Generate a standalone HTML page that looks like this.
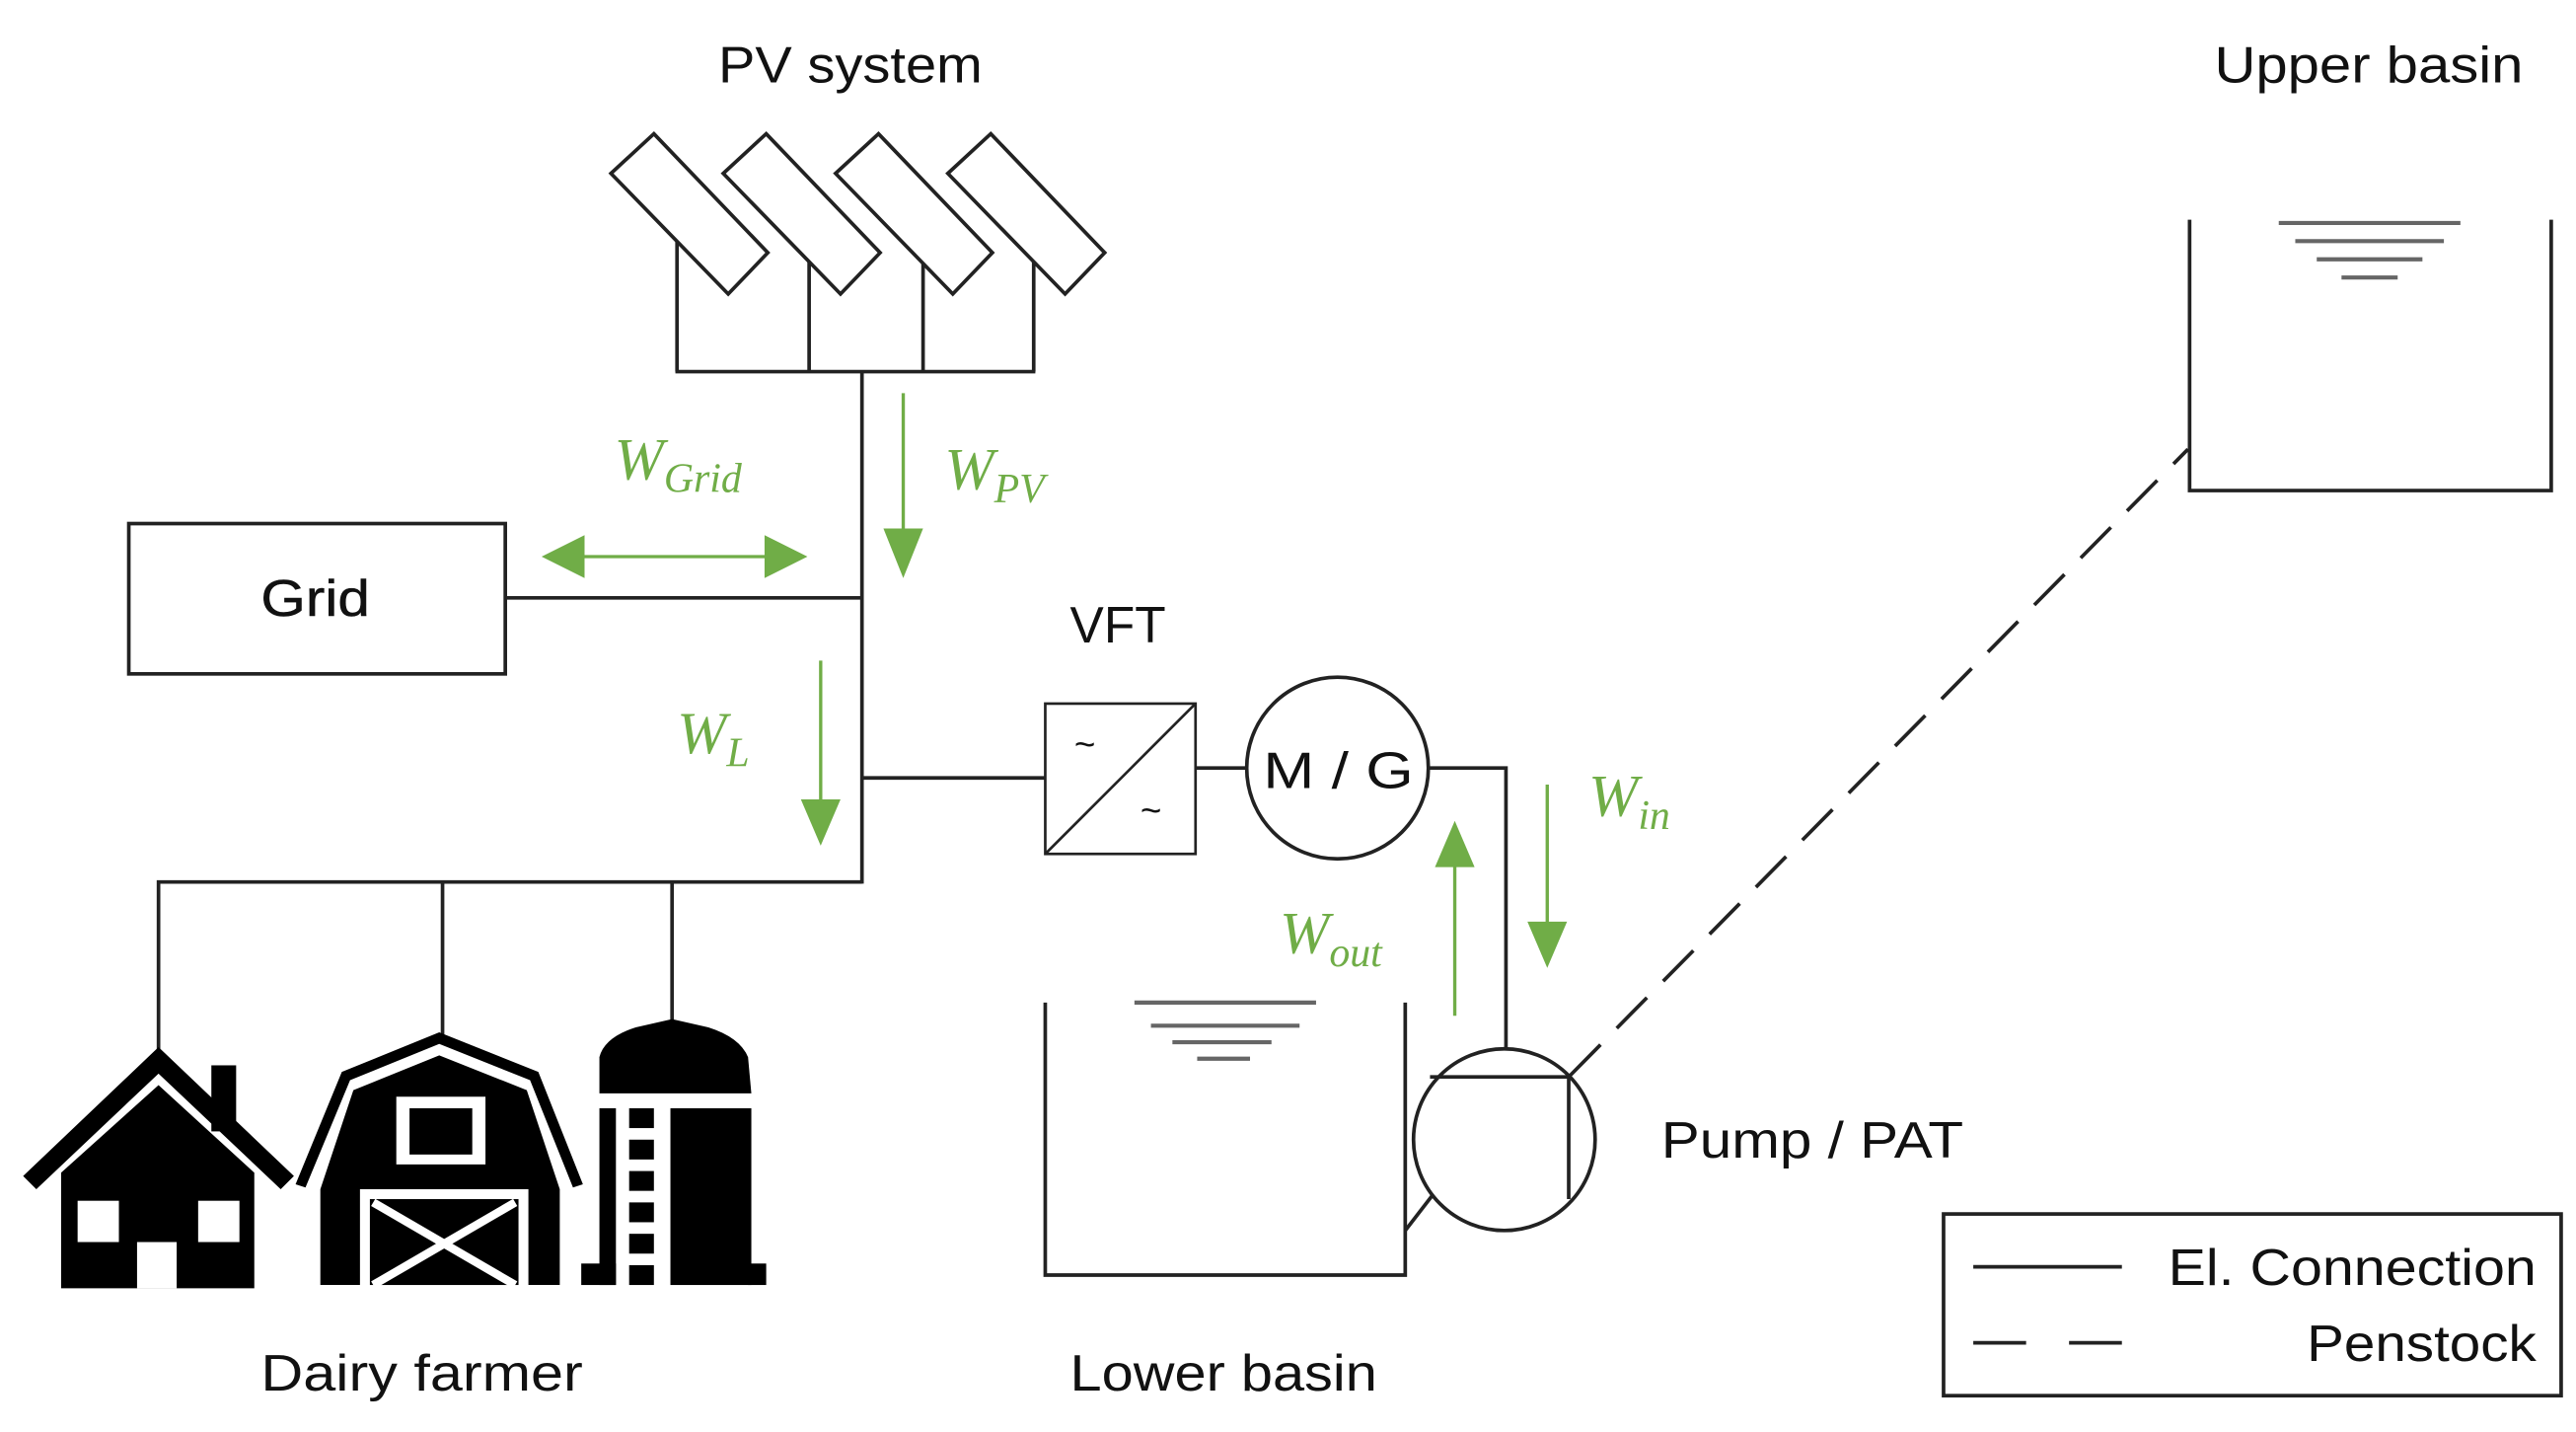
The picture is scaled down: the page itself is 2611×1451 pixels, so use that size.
<!DOCTYPE html>
<html><head><meta charset="utf-8"><style>
html,body{margin:0;padding:0;background:#fff;width:2611px;height:1451px;overflow:hidden}
svg{display:block}
text{font-family:"Liberation Sans",sans-serif;fill:#111}
.m{font-family:"Liberation Serif",serif;font-style:italic;fill:#70ad47}
</style></head><body>
<svg width="2611" height="1451" viewBox="0 0 1560 867" preserveAspectRatio="none" xmlns="http://www.w3.org/2000/svg">
<g stroke="#222" stroke-width="2.2" fill="none">
<line x1="410" y1="140" x2="410" y2="225"/><line x1="490" y1="140" x2="490" y2="225"/>
<line x1="559" y1="140" x2="559" y2="225"/><line x1="626" y1="140" x2="626" y2="225"/>
<line x1="409" y1="225" x2="627" y2="225"/>
</g>
<g stroke="#222" stroke-width="2.2" fill="#fff">
<polygon points="396,81 465,153 441,178 370,105"/>
<polygon points="464,81 533,153 509,178 438,105"/>
<polygon points="532,81 601,153 577,178 506,105"/>
<polygon points="600,81 669,153 645,178 574,105"/>
</g>
<g stroke="#222" stroke-width="2.2" fill="none">
<line x1="522" y1="225" x2="522" y2="535"/>
<rect x="78" y="317" width="228" height="91"/>
<line x1="306" y1="362" x2="522" y2="362"/>
<line x1="522" y1="471" x2="633" y2="471"/>
<rect x="633" y="426" width="91" height="91" stroke-width="1.6"/>
<line x1="633" y1="517" x2="724" y2="426" stroke-width="1.6"/>
<line x1="724" y1="465" x2="755" y2="465"/>
<circle cx="810" cy="465" r="55"/>
<polyline points="865,465 912,465 912,636"/>
<polyline points="633,607 633,772 851,772 851,607"/>
<line x1="851" y1="745" x2="868" y2="723"/>
<circle cx="911" cy="690" r="55"/>
<line x1="866" y1="652" x2="951" y2="652"/>
<line x1="950" y1="652" x2="950" y2="726"/>
<line x1="951" y1="651" x2="1325" y2="272" stroke-dasharray="26,14"/>
<polyline points="1326,133 1326,297 1545,297 1545,133"/>
<polyline points="522,534 96,534 96,637"/>
<line x1="268" y1="534" x2="268" y2="628"/>
<line x1="407" y1="534" x2="407" y2="620"/>
<rect x="1177" y="735" width="374" height="110"/>
<line x1="1195" y1="767" x2="1285" y2="767"/>
<line x1="1195" y1="813" x2="1285" y2="813" stroke-dasharray="32,26"/>
</g>
<g stroke="#666" stroke-width="2.5">
<line x1="687" y1="607" x2="797" y2="607"/><line x1="697" y1="621" x2="787" y2="621"/>
<line x1="710" y1="631" x2="770" y2="631"/><line x1="725" y1="641" x2="757" y2="641"/>
<line x1="1380" y1="135" x2="1490" y2="135"/><line x1="1390" y1="146" x2="1480" y2="146"/>
<line x1="1403" y1="157" x2="1467" y2="157"/><line x1="1418" y1="168" x2="1452" y2="168"/>
</g>
<g stroke="#70ad47" stroke-width="2" fill="#70ad47">
<line x1="350" y1="337" x2="470" y2="337"/>
<polygon points="328,337 354,324 354,350" stroke="none"/>
<polygon points="489,337 463,324 463,350" stroke="none"/>
<line x1="547" y1="238" x2="547" y2="325"/>
<polygon points="535,320 559,320 547,350" stroke="none"/>
<line x1="497" y1="400" x2="497" y2="488"/>
<polygon points="485,484 509,484 497,512" stroke="none"/>
<line x1="937" y1="475" x2="937" y2="562"/>
<polygon points="925,558 949,558 937,586" stroke="none"/>
<line x1="881" y1="615" x2="881" y2="520"/>
<polygon points="869,525 893,525 881,497" stroke="none"/>
</g>
<text class="m" x="372" y="290" font-size="36">W<tspan font-size="25" dy="8">Grid</tspan></text>
<text class="m" x="572" y="296" font-size="36">W<tspan font-size="25" dy="8">PV</tspan></text>
<text class="m" x="410" y="456" font-size="36">W<tspan font-size="25" dy="8">L</tspan></text>
<text class="m" x="962" y="494" font-size="36">W<tspan font-size="25" dy="8">in</tspan></text>
<text class="m" x="775" y="577" font-size="36">W<tspan font-size="25" dy="8">out</tspan></text>
<text x="435" y="50" font-size="31" textLength="160" lengthAdjust="spacingAndGlyphs">PV system</text>
<text x="1341" y="50" font-size="31" textLength="187" lengthAdjust="spacingAndGlyphs">Upper basin</text>
<text x="158" y="373" font-size="31" textLength="66" lengthAdjust="spacingAndGlyphs" stroke="#111" stroke-width="0.3">Grid</text>
<text x="648" y="389" font-size="31" textLength="58" lengthAdjust="spacingAndGlyphs">VFT</text>
<text x="765" y="477" font-size="31" textLength="91" lengthAdjust="spacingAndGlyphs">M / G</text>
<text x="657" y="458" font-size="22" text-anchor="middle">~</text>
<text x="697" y="498" font-size="22" text-anchor="middle">~</text>
<text x="1006" y="701" font-size="31" textLength="183" lengthAdjust="spacingAndGlyphs">Pump / PAT</text>
<text x="648" y="842" font-size="31" textLength="186" lengthAdjust="spacingAndGlyphs">Lower basin</text>
<text x="158" y="842" font-size="31" textLength="195" lengthAdjust="spacingAndGlyphs">Dairy farmer</text>
<text x="1313" y="778" font-size="31" textLength="223" lengthAdjust="spacingAndGlyphs">El. Connection</text>
<text x="1397" y="824" font-size="31" textLength="139" lengthAdjust="spacingAndGlyphs">Penstock</text>
<g fill="#000">
<polygon points="14,712 96,634 178,712 170,720 96,650 22,720"/>
<rect x="128" y="645" width="15" height="40"/>
<polygon points="37,710 96,657 154,710 154,780 37,780"/>
</g>
<g fill="#fff">
<rect x="47" y="727" width="25" height="25"/><rect x="120" y="727" width="25" height="25"/>
<rect x="83" y="752" width="24" height="28"/>
</g>
<g fill="#000">
<polygon points="179,717 207,649 266,625 326,649 353,717 347,719 321,654 266,632 212,654 185,719"/>
<polygon points="194,778 194,720 214,660 266,639 319,660 339,720 339,778"/>
</g>
<g fill="#fff">
<rect x="240" y="664" width="54" height="41"/>
<rect x="218" y="720" width="102" height="58"/>
</g>
<g fill="#000">
<rect x="248" y="671" width="38" height="28"/>
<rect x="224" y="726" width="90" height="52"/>
</g>
<g stroke="#fff" stroke-width="5"><line x1="226" y1="728" x2="312" y2="778"/><line x1="312" y1="728" x2="226" y2="778"/></g>
<g fill="#000">
<path d="M363,662 L363,640 Q366,628 385,622 L407,617 L429,622 Q448,628 453,640 L455,662 Z"/>
<rect x="406" y="671" width="49" height="107"/>
<rect x="363" y="671" width="10" height="107"/>
<rect x="352" y="765" width="21" height="13"/><rect x="453" y="765" width="11" height="13"/>
<rect x="381" y="671" width="15" height="12"/><rect x="381" y="690" width="15" height="12"/>
<rect x="381" y="709" width="15" height="12"/><rect x="381" y="728" width="15" height="12"/>
<rect x="381" y="747" width="15" height="12"/><rect x="381" y="766" width="15" height="12"/>
</g>
</svg>
</body></html>
